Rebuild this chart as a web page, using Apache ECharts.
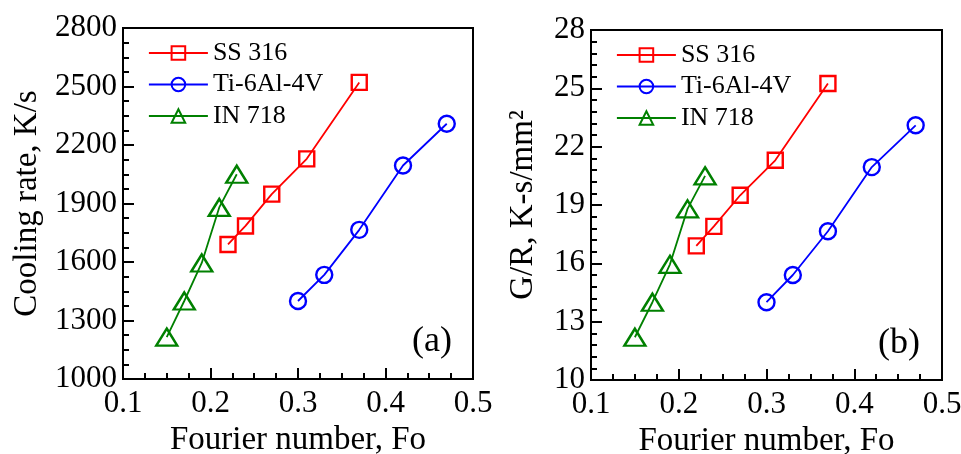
<!DOCTYPE html>
<html>
<head>
<meta charset="utf-8">
<script src="https://cdn.jsdelivr.net/npm/echarts@6/dist/echarts.min.js"></script>
<style>
  html, body { margin: 0; padding: 0; background: #fff; }
  #chart { width: 961px; height: 454px; }
</style>
</head>
<body>
<div id="chart"></div>
<script>
// Fourier number (x) for each alloy
const foSS = [0.22, 0.24, 0.27, 0.31, 0.37];
const foTi = [0.30, 0.33, 0.37, 0.42, 0.47];
const foIN = [0.15, 0.17, 0.19, 0.21, 0.23];

// Panel (a): cooling rate, K/s
const coolSS = [1690, 1785, 1948, 2129, 2521];
const coolTi = [1400, 1534, 1765, 2095, 2309];
const coolIN = [1215, 1400, 1595, 1880, 2050];

// Panel (b): G/R, K-s/mm^2
const grSS = [16.9, 17.9, 19.5, 21.3, 25.25];
const grTi = [14.0, 15.4, 17.65, 20.95, 23.1];
const grIN = [12.2, 14.0, 15.95, 18.8, 20.5];

const names = ['SS 316', 'Ti-6Al-4V', 'IN 718'];
const colors = ['#ff0000', '#0000ff', '#008000'];
const symbols = ['rect', 'circle', 'triangle'];
const symbolSizes = [15, 16, [21, 17]];

const FONT = 'Liberation Serif';

const pair = (xs, ys) => xs.map((x, i) => [x, ys[i]]);

function makeX(gridIndex) {
  return {
    type: 'value', gridIndex, min: 0.1, max: 0.5, interval: 0.1,
    name: 'Fourier number, Fo', nameLocation: 'middle', nameGap: 41,
    nameTextStyle: { fontFamily: FONT, fontSize: 33, color: '#000' },
    axisLine: { show: true, lineStyle: { color: '#000', width: 2 } },
    axisTick: { inside: true, length: 11, lineStyle: { color: '#000', width: 2 } },
    minorTick: { show: true, splitNumber: 4, length: 6, lineStyle: { color: '#000', width: 2 } },
    splitLine: { show: false },
    axisLabel: { fontFamily: FONT, fontSize: 31, color: '#000', margin: 9,
      formatter: v => v.toFixed(1) }
  };
}

function makeY(gridIndex, min, max, interval, split, name, gap) {
  return {
    type: 'value', gridIndex, min, max, interval,
    name, nameLocation: 'middle', nameGap: gap,
    nameTextStyle: { fontFamily: FONT, fontSize: 33, color: '#000' },
    axisLine: { show: true, lineStyle: { color: '#000', width: 2 } },
    axisTick: { inside: true, length: 11, lineStyle: { color: '#000', width: 2 } },
    minorTick: { show: true, splitNumber: split, length: 6, lineStyle: { color: '#000', width: 2 } },
    splitLine: { show: false },
    axisLabel: { fontFamily: FONT, fontSize: 31, color: '#000', margin: 6,
      formatter: v => String(v) }
  };
}

function makeSeries(idx, xs, ys, axisIndex) {
  return {
    type: 'line', name: names[idx],
    xAxisIndex: axisIndex, yAxisIndex: axisIndex,
    data: pair(xs, ys),
    symbol: symbols[idx], symbolSize: symbolSizes[idx],
    showAllSymbol: true,
    lineStyle: { color: colors[idx], width: 1.8 },
    itemStyle: { color: 'rgba(0,0,0,0)', borderColor: colors[idx], borderWidth: 2.4 },
    emphasis: { disabled: true },
    animation: false
  };
}

function makeLegend(left, top) {
  return {
    orient: 'vertical', left, top,
    itemWidth: 59, itemHeight: 17, itemGap: 5.5,
    textStyle: { fontFamily: FONT, fontSize: 26, color: '#000', lineHeight: 26 },
    data: names.map((n, i) => ({
      name: n,
      itemStyle: { color: 'rgba(0,0,0,0)', borderColor: colors[i], borderWidth: 2 },
      lineStyle: { color: colors[i], width: 1.8 }
    })),
    selectedMode: false
  };
}

const chart = echarts.init(document.getElementById('chart'), null, { renderer: 'canvas' });
chart.setOption({
  backgroundColor: '#fff',
  animation: false,
  grid: [
    { left: 123, top: 28, width: 350, height: 351, show: true, borderColor: '#000', borderWidth: 2,
      containLabel: false, outerBoundsMode: 'none' },
    { left: 591, top: 30, width: 351, height: 350, show: true, borderColor: '#000', borderWidth: 2,
      containLabel: false, outerBoundsMode: 'none' }
  ],
  xAxis: [makeX(0), makeX(1)],
  yAxis: [
    makeY(0, 1000, 2800, 300, 4, 'Cooling rate, K/s', 79),
    makeY(1, 10, 28, 3, 5, 'G/R, K-s/mm²', 51)
  ],
  legend: [makeLegend(143, 35), makeLegend(611, 37)],
  series: [
    makeSeries(0, foSS, coolSS, 0),
    makeSeries(1, foTi, coolTi, 0),
    makeSeries(2, foIN, coolIN, 0),
    makeSeries(0, foSS, grSS, 1),
    makeSeries(1, foTi, grTi, 1),
    makeSeries(2, foIN, grIN, 1)
  ],
  graphic: [
    { type: 'text', left: 412, top: 324, style: { text: '(a)', font: '36px "Liberation Serif"', fill: '#000' } },
    { type: 'text', left: 878, top: 326, style: { text: '(b)', font: '36px "Liberation Serif"', fill: '#000' } }
  ]
});
</script>
</body>
</html>
